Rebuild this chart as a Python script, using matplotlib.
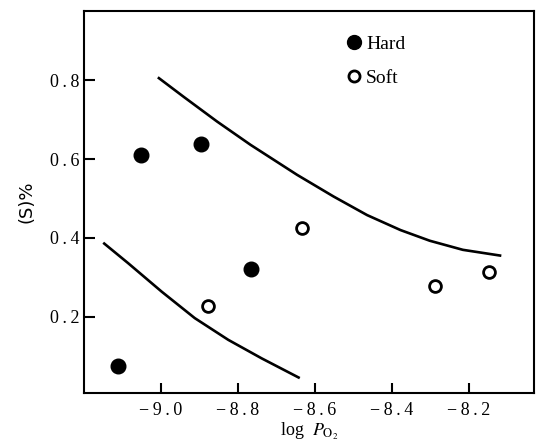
import matplotlib
matplotlib.use("Agg")
import matplotlib.pyplot as plt
from matplotlib.lines import Line2D

# measured points
hard_x = [-9.112, -9.052, -8.896, -8.767]
hard_y = [0.076, 0.610, 0.638, 0.321]
soft_x = [-8.877, -8.633, -8.288, -8.148]
soft_y = [0.228, 0.425, 0.279, 0.313]

# upper and lower boundary curves
upper_x = [-9.008, -8.940, -8.854, -8.767, -8.646, -8.551, -8.464, -8.377, -8.301, -8.215, -8.115]
upper_y = [0.807, 0.757, 0.695, 0.636, 0.560, 0.505, 0.458, 0.420, 0.393, 0.370, 0.355]
lower_x = [-9.150, -9.085, -8.998, -8.912, -8.825, -8.738, -8.639]
lower_y = [0.388, 0.336, 0.264, 0.197, 0.142, 0.095, 0.045]

xticks = [-9.0, -8.8, -8.6, -8.4, -8.2]
yticks = [0.2, 0.4, 0.6, 0.8]

serif = "Liberation Serif"
plt.rcParams["mathtext.fontset"] = "stix"


def spaced(s):
    # the original print sets tick numbers with wide letter spacing
    return "\u2009".join(s)


fig = plt.figure(figsize=(5.36, 4.44), dpi=100)
ax = fig.add_axes([0.1567, 0.1155, 0.8396, 0.8597])

ax.plot(upper_x, upper_y, color="black", lw=1.9, solid_capstyle="butt", solid_joinstyle="round")
ax.plot(lower_x, lower_y, color="black", lw=1.9, solid_capstyle="butt", solid_joinstyle="round")
ax.plot(hard_x, hard_y, "o", color="black", ms=10.5, ls="none")
ax.plot(soft_x, soft_y, "o", mfc="white", mec="black", mew=2, ms=8.5, ls="none")

ax.set_xlim(-9.2, -8.03)
ax.set_ylim(0.008, 0.975)
ax.set_xticks(xticks)
ax.set_yticks(yticks)
ax.set_xticklabels([spaced("\u2212%.1f" % abs(v)) for v in xticks], family=serif, fontsize=13)
ax.set_yticklabels([spaced("%.1f" % v) for v in yticks], family=serif, fontsize=13)
ax.tick_params(axis="x", direction="in", length=7, width=1.5, pad=7)
ax.tick_params(axis="y", direction="in", length=8, width=1.5, pad=3)
for sp in ax.spines.values():
    sp.set_linewidth(1.5)

ax.set_ylabel("(S)%", fontsize=13, family="DejaVu Sans")
ax.yaxis.set_label_coords(-0.108, 0.5)
ax.set_xlabel(r"log  $P_{\mathrm{O}_2}$", fontsize=13, family=serif)
ax.xaxis.set_label_coords(0.5, -0.075)

handles = [
    Line2D([], [], marker="o", color="black", ls="none", ms=10),
    Line2D([], [], marker="o", mfc="white", mec="black", mew=2, ls="none", ms=8),
]
ax.legend(handles, ["Hard", "Soft"], loc="upper left", bbox_to_anchor=(0.56, 0.957),
          frameon=False, handletextpad=0.15, handlelength=1.0, labelspacing=0.86,
          borderaxespad=0, prop={"family": serif, "size": 14})

fig.savefig("out.png", dpi=100)
